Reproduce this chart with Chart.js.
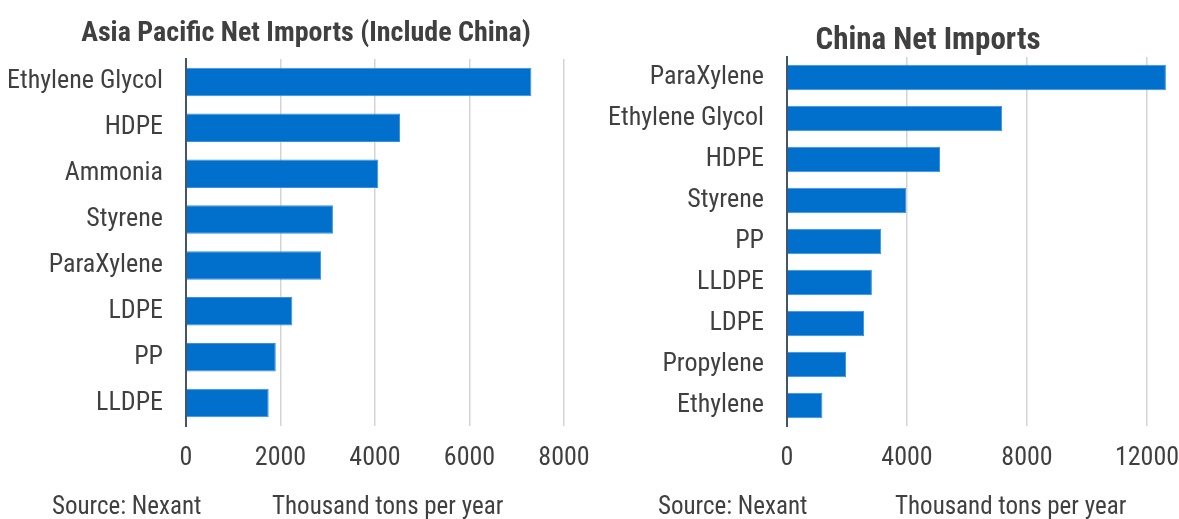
<!DOCTYPE html>
<html>
<head>
<meta charset="utf-8">
<script src="https://cdn.jsdelivr.net/npm/chart.js@4.4.1/dist/chart.umd.min.js"></script>
<style>
  html, body { margin: 0; padding: 0; background: #ffffff; }
  #page { position: relative; width: 1179px; height: 519px; overflow: hidden;
          font-family: 'Liberation Sans Narrow', 'Arial Narrow', 'Roboto Condensed', sans-serif; color: #404040; }
  .panel { position: absolute; top: 0; height: 519px; }
  .title { position: absolute; font-weight: bold; white-space: nowrap; transform: translateX(-50%); line-height: 1; }
  .note { position: absolute; font-size: 25px; white-space: nowrap; line-height: 1; }
</style>
</head>
<body>
<div id="page">
  <div class="panel" style="left:0;width:590px;"><canvas id="apChart" width="590" height="519"></canvas></div>
  <div class="panel" style="left:590px;width:589px;"><canvas id="cnChart" width="589" height="519"></canvas></div>

  <div class="title" style="left:306px;top:18px;font-size:28px;">Asia Pacific Net Imports (Include China)</div>
  <div class="title" style="left:928px;top:23px;font-size:31px;">China Net Imports</div>

  <div class="note" style="left:52px;top:493px;">Source: Nexant</div>
  <div class="note" style="left:272px;top:493px;">Thousand tons per year</div>
  <div class="note" style="left:658px;top:493px;">Source: Nexant</div>
  <div class="note" style="left:895px;top:493px;">Thousand tons per year</div>
</div>
<script>
// Net imports, thousand tons per year
const apCategories = ['Ethylene Glycol', 'HDPE', 'Ammonia', 'Styrene', 'ParaXylene', 'LDPE', 'PP', 'LLDPE'];
const apValues = [7310, 4530, 4070, 3110, 2860, 2250, 1900, 1750];
const apTicks = [0, 2000, 4000, 6000, 8000];

const cnCategories = ['ParaXylene', 'Ethylene Glycol', 'HDPE', 'Styrene', 'PP', 'LLDPE', 'LDPE', 'Propylene', 'Ethylene'];
const cnValues = [12630, 7170, 5100, 3970, 3140, 2830, 2570, 1970, 1180];
const cnTicks = [0, 4000, 8000, 12000];

const FONT = "'Liberation Sans Narrow', 'Arial Narrow', 'Roboto Condensed', sans-serif";
Chart.defaults.font.family = FONT;
Chart.defaults.font.size = 26;
Chart.defaults.color = '#404040';

function barChart(id, categories, values, ticks, axisMax, geom) {
  return new Chart(document.getElementById(id), {
    type: 'bar',
    data: {
      labels: categories,
      datasets: [{
        data: values,
        backgroundColor: '#0070cc',
        borderColor: '#3b8fdc',
        borderWidth: 1,
        categoryPercentage: 1,
        barPercentage: 0.62
      }]
    },
    options: {
      indexAxis: 'y',
      responsive: false,
      animation: false,
      layout: { padding: { left: 0, right: geom.right, top: geom.top, bottom: geom.bottom } },
      plugins: { legend: { display: false }, tooltip: { enabled: false }, title: { display: false } },
      scales: {
        x: {
          min: 0,
          max: axisMax,
          afterBuildTicks: (scale) => { scale.ticks = ticks.map(v => ({ value: v })); },
          afterFit: (scale) => {
            scale.height = geom.xAxisHeight;
            // keep the plot edges fixed regardless of tick label widths
            scale.paddingLeft = 0;
            scale.paddingRight = 0;
          },
          ticks: { padding: 17, color: '#404040', font: { size: 26 }, callback: (v) => String(v) },
          grid: {
            drawTicks: false,
            lineWidth: 1.5,
            color: (ctx) => (ctx.tick && ctx.tick.value === 0) ? 'rgba(0,0,0,0)' : '#d4d4d4'
          },
          border: { display: false }
        },
        y: {
          afterFit: (scale) => { scale.width = geom.yAxisWidth; },
          ticks: { padding: 23, color: '#404040', font: { size: 26 } },
          grid: { display: false, drawTicks: false },
          border: { display: true, color: '#44546a', width: 2 }
        }
      }
    }
  });
}

barChart('apChart', apCategories, apValues, apTicks, 8000,
  { top: 59, bottom: 42, right: 26, xAxisHeight: 51, yAxisWidth: 186 });
barChart('cnChart', cnCategories, cnValues, cnTicks, 13000,
  { top: 57, bottom: 42, right: 2, xAxisHeight: 51, yAxisWidth: 197 });
</script>
</body>
</html>
